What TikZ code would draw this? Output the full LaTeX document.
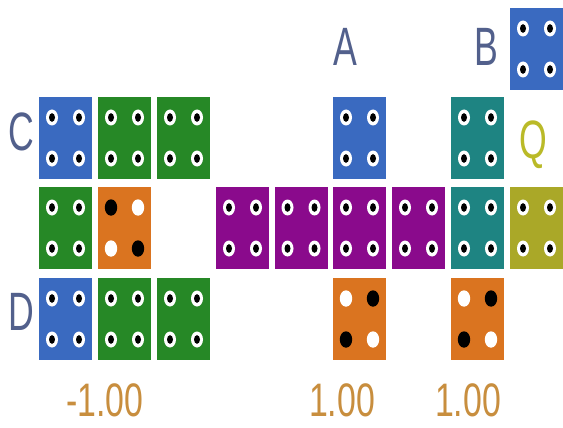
\documentclass[tikz,border=0pt]{standalone}
\usepackage{fontspec}
\usetikzlibrary{calc}
\setmainfont{Liberation Sans}
\definecolor{tblue}{RGB}{58,106,192}
\definecolor{tgreen}{RGB}{38,136,38}
\definecolor{tpurple}{RGB}{138,10,140}
\definecolor{tteal}{RGB}{30,132,130}
\definecolor{tolive}{RGB}{170,168,40}
\definecolor{torange}{RGB}{218,116,32}
\definecolor{lblue}{RGB}{82,96,140}
\definecolor{lgold}{RGB}{200,142,62}
\definecolor{lolive}{RGB}{186,186,40}
\tikzset{
  tilebox/.style={rectangle, inner sep=0pt, minimum width=53pt, minimum height=82pt},
  lbl/.style={inner sep=0pt, text=lblue, font=\fontsize{54}{54}\selectfont},
  num/.style={inner sep=0pt, text=lgold, font=\fontsize{47}{47}\selectfont},
}
\newcommand\ringdot[1]{%
  \fill[white] (#1) ellipse [x radius=6, y radius=8];
  \fill[black] (#1) ellipse [x radius=3, y radius=4.3];}
\newcommand\bigdot[2]{%
  \fill[#2] (#1) ellipse [x radius=6.2, y radius=8.2];}
% name, left x, top y, colour
\newcommand\mytile[4]{%
  \node[tilebox, fill=#4] (#1) at (#2+26.5,#3+41) {};
  \foreach \dx in {-13.5,13.5}{\foreach \dy in {-20.5,20.5}{\ringdot{$(#1.center)+(\dx,\dy)$}}}}
% name, left x, top y, colour TL, TR, BL, BR
\newcommand\otile[7]{%
  \node[tilebox, fill=torange] (#1) at (#2+26.5,#3+41) {};
  \bigdot{$(#1.center)+(-13.5,-20.5)$}{#4}
  \bigdot{$(#1.center)+(13.5,-20.5)$}{#5}
  \bigdot{$(#1.center)+(-13.5,20.5)$}{#6}
  \bigdot{$(#1.center)+(13.5,20.5)$}{#7}}
\begin{document}
\begin{tikzpicture}[x=1pt,y=-1pt]
\useasboundingbox (0,0) rectangle (563,428);
\fill[white] (0,0) rectangle (563,428);
% row -1
\mytile{tB}{510}{8}{tblue}
% row 0
\mytile{c0}{39}{97}{tblue}
\mytile{c1}{98}{97}{tgreen}
\mytile{c2}{157}{97}{tgreen}
\mytile{tA}{333}{97}{tblue}
\mytile{t7}{451}{97}{tteal}
% row 1
\mytile{m0}{39}{187}{tgreen}
\otile{m1}{98}{187}{black}{white}{white}{black}
\mytile{m3}{216}{187}{tpurple}
\mytile{m4}{274.5}{187}{tpurple}
\mytile{m5}{333}{187}{tpurple}
\mytile{m6}{392}{187}{tpurple}
\mytile{m7}{451}{187}{tteal}
\mytile{m8}{510}{187}{tolive}
% row 2
\mytile{d0}{39}{278}{tblue}
\mytile{d1}{98}{278}{tgreen}
\mytile{d2}{157}{278}{tgreen}
\otile{d5}{333}{278}{white}{black}{black}{white}
\otile{d7}{451}{278}{white}{black}{black}{white}
% labels
\node[lbl] (lA) at (345,47) {\scalebox{0.66}[1]{A}};
\node[lbl] (lB) at (486,47) {\scalebox{0.66}[1]{B}};
\node[lbl] (lC) at (21,132) {\scalebox{0.66}[1]{C}};
\node[lbl] (lD) at (21,312) {\scalebox{0.66}[1]{D}};
\node[lbl, text=lolive] (lQ) at (533,145) {\scalebox{0.66}[1]{Q}};
\node[num] (n1) at (105,400) {\scalebox{0.72}[1]{-1.00}};
\node[num] (n2) at (342,400) {\scalebox{0.72}[1]{1.00}};
\node[num] (n3) at (468,400) {\scalebox{0.72}[1]{1.00}};
\end{tikzpicture}
\end{document}
